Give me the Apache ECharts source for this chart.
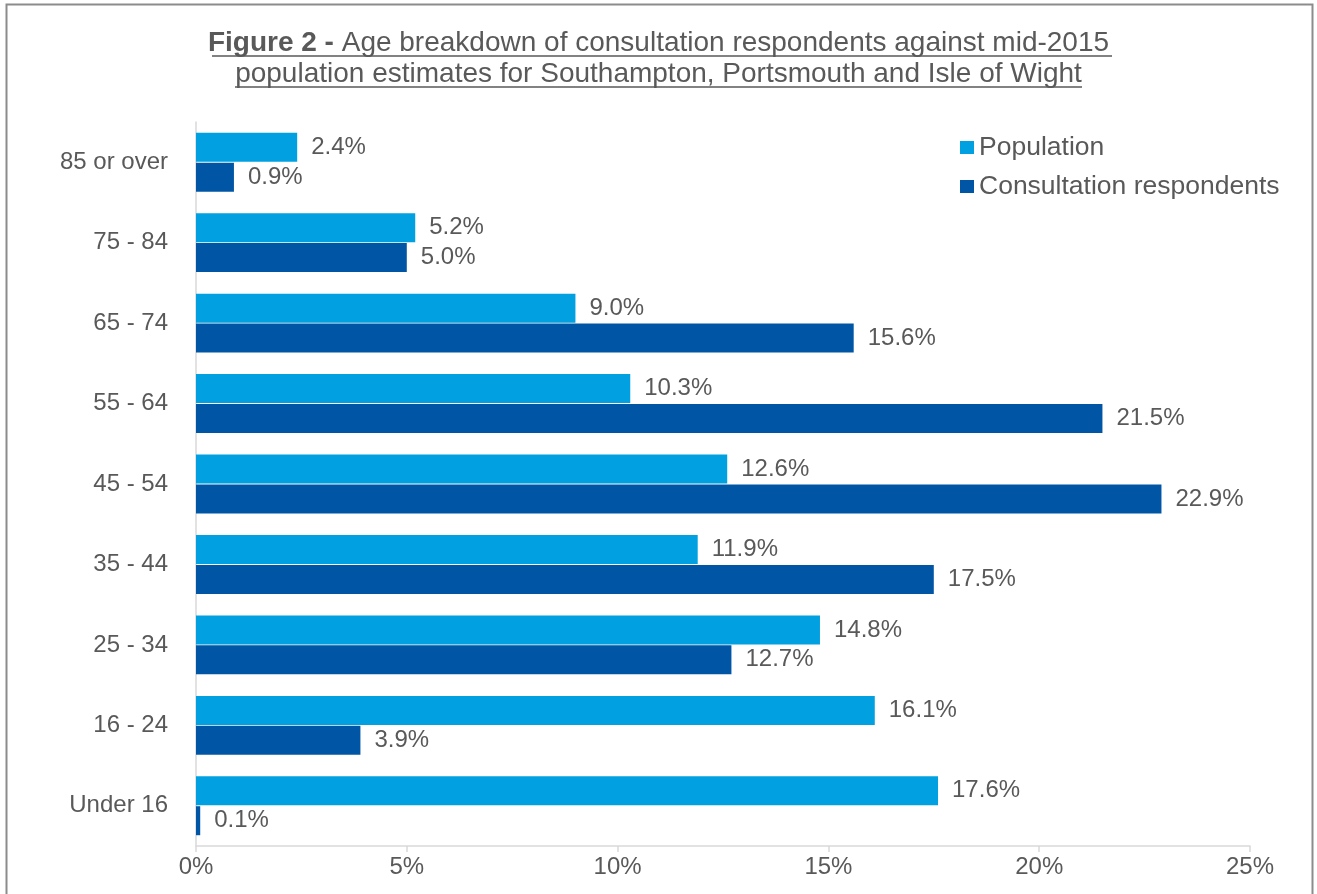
<!DOCTYPE html>
<html>
<head>
<meta charset="utf-8">
<script src="https://cdn.jsdelivr.net/npm/echarts@6/dist/echarts.min.js"></script>
<style>
  html, body { margin: 0; padding: 0; background: #fff; }
  #chart { width: 1317px; height: 894px; }
</style>
</head>
<body>
<div id="chart"></div>
<script>
// age bands, bottom to top as the axis draws them
const ageBands = ['Under 16', '16 - 24', '25 - 34', '35 - 44', '45 - 54', '55 - 64', '65 - 74', '75 - 84', '85 or over']
const population = [17.6, 16.1, 14.8, 11.9, 12.6, 10.3, 9.0, 5.2, 2.4]
const respondents = [0.1, 3.9, 12.7, 17.5, 22.9, 21.5, 15.6, 5.0, 0.9]
const xTicks = [0, 5, 10, 15, 20, 25]

const textColor = '#595959'
const fontFamily = 'Liberation Sans, Arial, sans-serif'

const chart = echarts.init(document.getElementById('chart'))

const labelOpt = {
  show: true,
  position: 'right',
  distance: 14,
  color: textColor,
  fontSize: 24,
  fontFamily: fontFamily,
  formatter: p => p.value.toFixed(1) + '%'
}

chart.setOption({
  animation: false,
  textStyle: { fontFamily: fontFamily },
  title: {
    text: '{b|Figure 2 - }{n|Age breakdown of consultation respondents against mid-2015}\n{n|population estimates for Southampton, Portsmouth and Isle of Wight}',
    left: 'center',
    top: 28,
    padding: 0,
    textStyle: {
      rich: {
        b: { fontSize: 28, fontWeight: 'bold', color: textColor, fontFamily: fontFamily, lineHeight: 31 },
        n: { fontSize: 28, fontWeight: 'normal', color: textColor, fontFamily: fontFamily, lineHeight: 31 }
      }
    }
  },
  legend: {
    data: ['Population', 'Consultation respondents'],
    orient: 'vertical',
    left: 955,
    top: 129,
    itemWidth: 14,
    itemHeight: 13,
    itemGap: 12,
    icon: 'rect',
    textStyle: { color: textColor, fontSize: 26.5, fontFamily: fontFamily }
  },
  grid: {
    left: 196,
    right: 67,
    top: 122,
    bottom: 48,
    containLabel: false
  },
  xAxis: {
    type: 'value',
    min: xTicks[0],
    max: xTicks[xTicks.length - 1],
    interval: 5,
    axisLine: { show: true, lineStyle: { color: '#d9d9d9', width: 1.5 } },
    axisTick: { show: true, length: 6, lineStyle: { color: '#d9d9d9', width: 1.5 } },
    splitLine: { show: false },
    axisLabel: {
      color: textColor,
      fontSize: 24,
      margin: 9,
      formatter: v => v + '%'
    }
  },
  yAxis: {
    type: 'category',
    data: ageBands,
    axisLine: { show: true, lineStyle: { color: '#d9d9d9', width: 1.5 } },
    axisTick: { show: false },
    axisLabel: { color: textColor, fontSize: 24, margin: 28 }
  },
  series: [
    {
      name: 'Population',
      type: 'bar',
      data: population,
      barWidth: 29,
      barGap: '3%',
      itemStyle: { color: '#00a0e1' },
      label: labelOpt
    },
    {
      name: 'Consultation respondents',
      type: 'bar',
      data: respondents,
      barWidth: 29,
      barGap: '3%',
      itemStyle: { color: '#0056a4' },
      label: labelOpt
    }
  ],
  graphic: [
    // outer frame
    { type: 'rect', shape: { x: 6.5, y: 4.5, width: 1306, height: 1000 }, style: { fill: null, stroke: '#8c8c8c', lineWidth: 2 }, silent: true },
    // title underlines
    { type: 'line', shape: { x1: 212, y1: 56, x2: 1112, y2: 56 }, style: { stroke: textColor, lineWidth: 1.3 }, silent: true },
    { type: 'line', shape: { x1: 235, y1: 87, x2: 1082, y2: 87 }, style: { stroke: textColor, lineWidth: 1.3 }, silent: true }
  ]
})
</script>
</body>
</html>
